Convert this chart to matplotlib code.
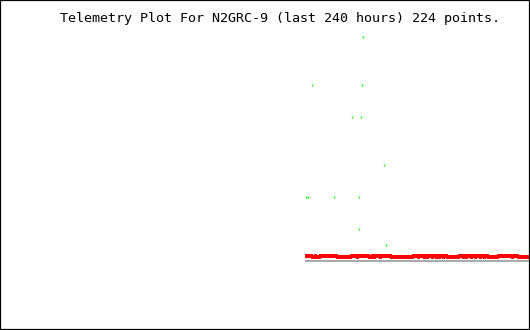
import matplotlib
matplotlib.use("Agg")
import matplotlib.pyplot as plt

TITLE = "Telemetry Plot For N2GRC-9 (last 240 hours) 224 points."

# Time axis: hours relative to now
X_MIN, X_MAX = -240.0, 0.0
Y_MIN, Y_MAX = 0.0, 330.0

# Red channel: step segments (boundaries in hours, level per segment)
red_edges = [-101.89, -98.72, -97.36, -96.91, -95.09, -87.40, -81.06, -78.34,
             -77.89, -72.91, -71.55, -71.09, -70.19, -67.92, -67.47, -62.94,
             -52.98, -50.72, -50.26, -48.00, -47.55, -46.64, -46.19, -44.38,
             -43.92, -42.57, -42.11, -41.21, -40.75, -39.40, -38.94, -37.58,
             -32.15, -30.34, -29.89, -28.98, -28.53, -26.72, -26.26, -24.91,
             -24.45, -22.64, -22.19, -20.83, -20.38, -19.02, -14.49, -8.15,
             -7.70, -5.43, 0.0]
red_levels = [74.1, 73.1, 74.1, 73.1, 74.1, 73.1, 74.1, 73.1,
              74.1, 73.1, 74.1, 73.1, 74.1, 73.1, 74.1, 73.1,
              74.1, 73.1, 74.1, 73.1, 74.1, 73.1, 74.1, 73.1,
              74.1, 73.1, 74.1, 73.1, 74.1, 73.1, 74.1, 73.1,
              74.1, 73.1, 74.1, 73.1, 74.1, 73.1, 74.1, 73.1,
              74.1, 73.1, 74.1, 73.1, 74.1, 73.1, 74.1, 73.1,
              74.1, 73.1]

# Gray channel: constant level
gray_start, gray_end = -101.89, 0.0
gray_level = 69.3

# Green channel: scattered samples
green_t = [-75.40, -98.94, -75.85, -80.38, -76.75, -65.89,
           -101.66, -100.75, -88.53, -77.66, -77.21, -65.43]
green_v = [293.0, 245.3, 245.3, 213.0, 213.0, 165.3,
           133.2, 133.2, 133.2, 133.2, 101.3, 85.2]

fig = plt.figure(figsize=(5.3, 3.3), dpi=100)
ax = fig.add_axes([0, 0, 1, 1])
ax.set_xlim(X_MIN, X_MAX)
ax.set_ylim(Y_MIN, Y_MAX)
ax.set_xticks([])
ax.set_yticks([])
for s in ax.spines.values():
    s.set_linewidth(1.6)
    s.set_color("black")

ax.hlines(gray_level, gray_start, gray_end, color="#aaaaaa", linewidth=1.44,
          antialiased=False, capstyle="butt")
ax.plot(red_edges, red_levels + [red_levels[-1]], drawstyle="steps-post",
        color="#ff0000", linewidth=1.55, antialiased=False,
        solid_capstyle="butt")
ax.plot(green_t, green_v, linestyle="none", marker="|", markersize=2.0,
        markeredgewidth=1.0, color="#00ff00", antialiased=False)

fig.text(60 / 530, 1 - 21.6 / 330, TITLE, family="DejaVu Sans Mono",
         fontsize=9.6, ha="left", va="baseline", color="black")

fig.savefig("out.png", dpi=100)
